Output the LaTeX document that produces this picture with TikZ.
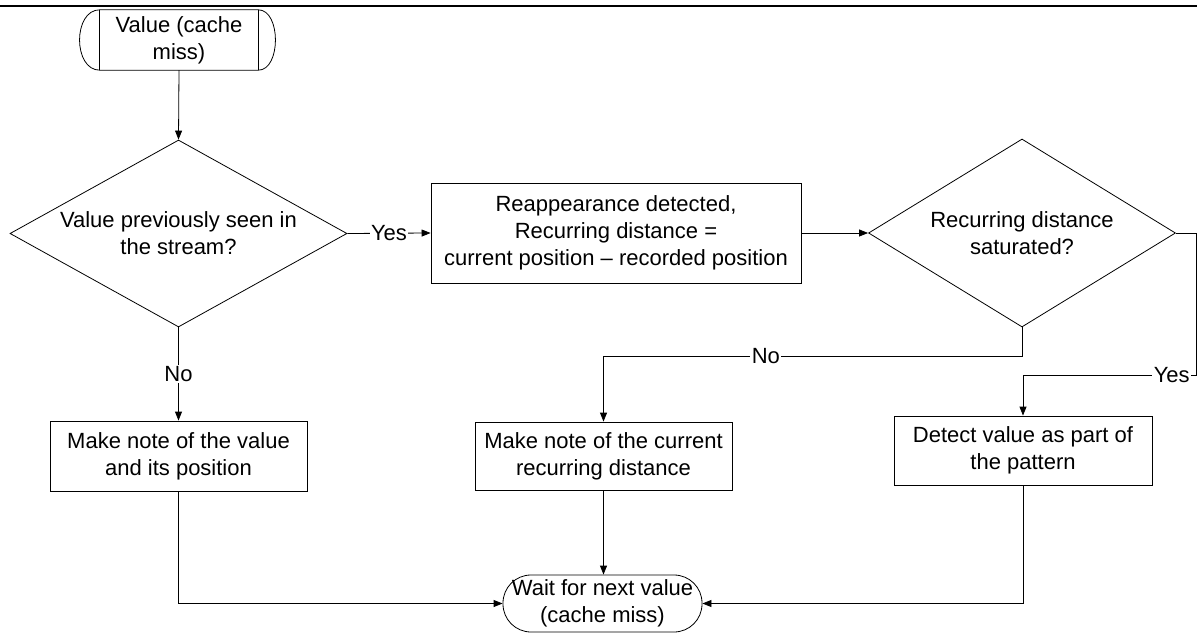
\documentclass[tikz,border=0pt]{standalone}
\usepackage{fontspec}
\setmainfont{Liberation Sans}
\usetikzlibrary{shapes.geometric,arrows.meta}
\begin{document}
\begin{tikzpicture}[x=1pt,y=-1pt,
  every node/.style={font=\fontsize{22}{27}\selectfont, align=center, inner sep=0pt},
  flow/.style={line width=0.8pt, line join=miter},
  arr/.style={flow, -{Triangle[length=9pt,width=7pt]}},
  procbox/.style={draw, flow},
  decision/.style={diamond, draw, flow, aspect=1.8},
  lbl/.style={fill=white, inner xsep=1.5pt, inner ysep=1pt}
]
\useasboundingbox (0,0) rectangle (1197,636);

% rule along the top edge
\draw[line width=2.5pt] (0,6) -- (1197,6);

% start terminal with inner side bars
\node[minimum width=158, minimum height=60] (start) at (179,40) {Value (cache\\miss)};
\draw[flow] (start.north west) -- (start.north east)
  .. controls +(23,0) and +(23,0) .. (start.south east)
  -- (start.south west)
  .. controls +(-27,0) and +(-27,0) .. (start.north west) -- cycle;
\draw[flow] (start.north west) -- (start.south west);
\draw[flow] (start.north east) -- (start.south east);

% decisions
\node[decision, minimum width=337, minimum height=187] (d1) at (178.5,233.5)
  {Value previously seen in\\the stream?};
\node[decision, minimum width=307, minimum height=188] (d3) at (1022,233)
  {Recurring distance\\saturated?};

% process boxes
\node[procbox, minimum width=370, minimum height=100] (b2) at (616,233)
  {Reappearance detected,\\Recurring distance =\\current position -- recorded position};
\node[procbox, minimum width=257, minimum height=70] (b1) at (178.5,456)
  {Make note of the value\\and its position};
\node[procbox, minimum width=257, minimum height=68] (b3) at (603.5,456)
  {Make note of the current\\recurring distance};
\node[procbox, minimum width=258, minimum height=69] (b4) at (1023,450.5)
  {Detect value as part of\\the pattern};

% end terminal
\node[draw, flow, rounded corners=28pt, minimum width=199, minimum height=57] (end) at (602.5,603.5)
  {Wait for next value\\(cache miss)};

% connectors
\draw[arr] (start.south) -- (d1.north);
\draw[arr] (d1.east) -- node[lbl]{Yes} (b2.west);
\draw[arr] (b2.east) -- (d3.west);
\draw[arr] (d1.south) -- node[lbl]{No} (b1.north);
\draw[arr] (d3.south) -- ++(0,29) -| node[lbl, pos=0.306]{No} (b3.north);
\draw[arr] (d3.east) -- ++(20,0) -- ++(0,142) -| node[lbl, pos=0.07]{Yes} (b4.north);
\draw[arr] (b3.south) -- (b3.south |- end.north);
\draw[arr] (b1.south) |- (end.west);
\draw[arr] (b4.south) |- (end.east);
\end{tikzpicture}
\end{document}
